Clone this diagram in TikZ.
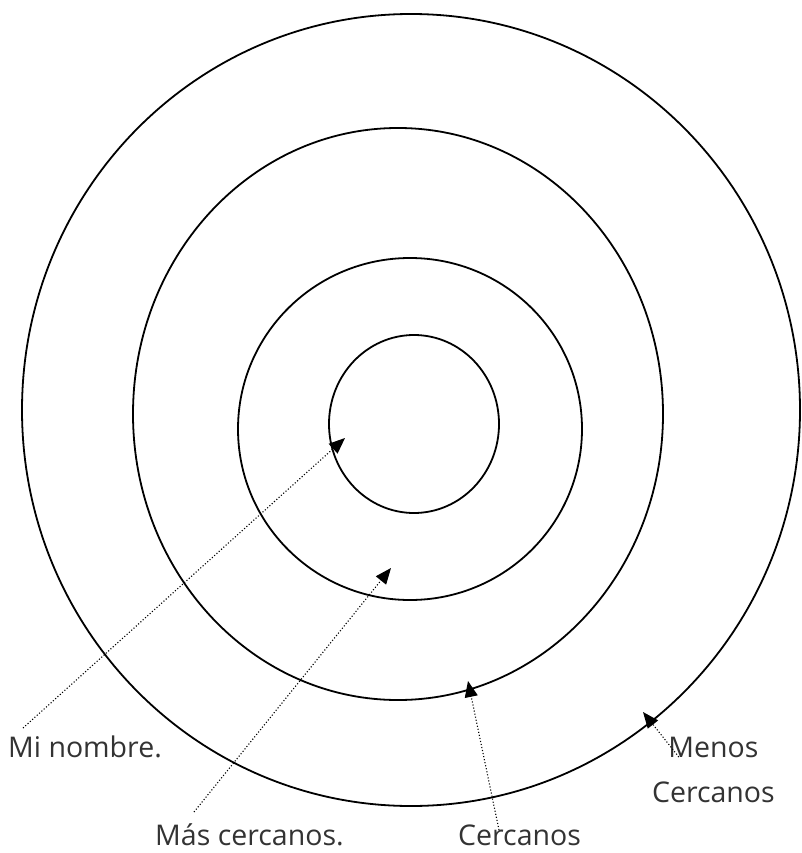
\documentclass[tikz,border=0pt]{standalone}
\usepackage{fontspec}
\setmainfont{Open Sans}
\usepackage{tikz}
\usetikzlibrary{arrows.meta, positioning}
\tikzstyle{ring} = [draw=black, line width=1.8pt]
\tikzstyle{ringlabel} = [
  inner sep=0pt, text=black!80, align=center,
  font=\fontsize{28.5}{45}\selectfont
]
\tikzstyle{pointer} = [-{Triangle[length=16pt,width=13pt]}, line width=1.1pt,
  dash pattern=on 1.1pt off 2pt]

\begin{document}
\begin{tikzpicture}[x=1pt, y=-1pt]
  \useasboundingbox (0,0) rectangle (801,853);

  % the four rings
  \draw[ring] (411,410) ellipse [x radius=389, y radius=396];
  \draw[ring] (398,414) ellipse [x radius=265, y radius=286];
  \draw[ring] (410,429) ellipse [x radius=172, y radius=171];
  \draw[ring] (414,424) ellipse [x radius=85, y radius=89];

  % labels
  \node[ringlabel, anchor=base west] (mi) at (8,757) {Mi nombre.};
  \node[ringlabel, anchor=base west] (mas) at (155,845) {Más cercanos.};
  \node[ringlabel, anchor=base west] (cerca) at (458,845) {Cercanos};
  \node[ringlabel, anchor=base east] (menos) at (775,802) {Menos\\Cercanos};

  % where the arrows point
  \coordinate (mi-tip) at (345,438);
  \coordinate (mas-tip) at (391,568);
  \coordinate (cerca-tip) at (468,681);
  \coordinate (menos-tip) at (643,712);

  \draw[pointer] ([xshift=15pt, yshift=29pt]mi.base west) -- (mi-tip);
  \draw[pointer] ([xshift=39pt, yshift=33pt]mas.base west) -- (mas-tip);
  \draw[pointer] ([xshift=41pt, yshift=15pt]cerca.base west) -- (cerca-tip);
  \draw[pointer] ([xshift=27pt, yshift=45pt]menos.base west) -- (menos-tip);

\end{tikzpicture}
\end{document}
